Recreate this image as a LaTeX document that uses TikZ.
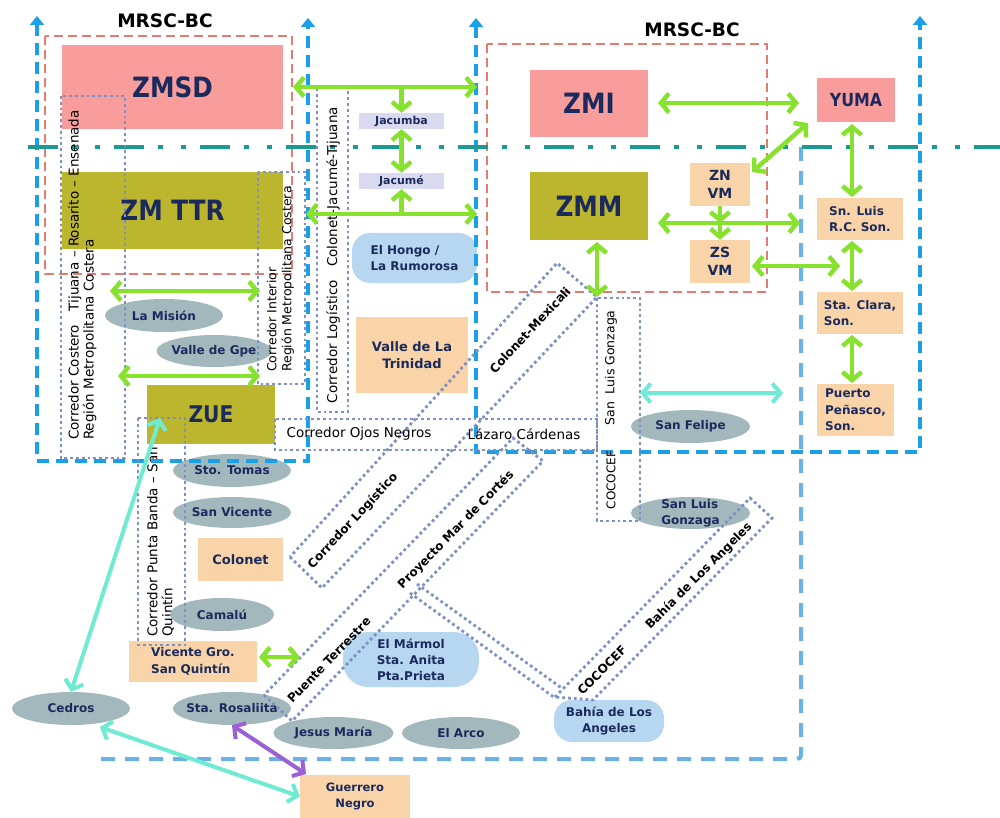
\documentclass[tikz,border=0pt]{standalone}
\usepackage{fontspec}
\setmainfont{DejaVu Sans}
\newfontfamily\bigfont[FakeStretch=0.88]{DejaVu Sans}
\usetikzlibrary{arrows.meta,shapes.geometric,calc}
\definecolor{cpink}{HTML}{F89C9C}
\definecolor{colive}{HTML}{BCB62E}
\definecolor{cpeach}{HTML}{F9D4A8}
\definecolor{clav}{HTML}{D9D9F0}
\definecolor{cgrey}{HTML}{A3B8BC}
\definecolor{clblue}{HTML}{B7D7F1}
\definecolor{cnavy}{HTML}{1B2A5C}
\definecolor{cgreen}{HTML}{86E22C}
\definecolor{ccyan}{HTML}{6EEBD2}
\definecolor{cpurple}{HTML}{9B5FD6}
\definecolor{cblue}{HTML}{1AA0E8}
\definecolor{cbluetwo}{HTML}{6BB1E5}
\definecolor{cred}{HTML}{E57B6E}
\definecolor{cteal}{HTML}{1B9A92}
\definecolor{cdot}{HTML}{7F91C3}
\newcommand\myfs[2]{\fontsize{#1pt}{#2pt}\selectfont}
\tikzset{
  >={Straight Barb[length=8pt,width=19pt]},
  base/.style={inner sep=0pt, text=cnavy, align=center},
  bigbox/.style={base, font=\bigfont\bfseries\myfs{28}{30}},
  pinkb/.style={bigbox, fill=cpink},
  oliveb/.style={bigbox, fill=colive},
  peachb/.style={base, fill=cpeach, font=\bfseries\myfs{12}{16.5}},
  lavb/.style={base, fill=clav, font=\bfseries\myfs{11}{12}},
  pill/.style={ellipse, fill=cgrey, inner sep=0pt},
  lbl/.style={base, font=\bfseries\myfs{12}{16}},
  rbox/.style={base, fill=clblue, rounded corners=18pt, font=\bfseries\myfs{12}{16}},
  corr/.style={draw=cdot, line width=2.8pt, dash pattern=on 2.8pt off 3pt},
  ctext/.style={inner sep=0pt, text=black, font=\myfs{13.5}{15}, align=left},
  dtext/.style={inner sep=0pt, text=black, font=\bfseries\myfs{12}{14}},
  bdash/.style={draw=cblue, line width=4pt, dash pattern=on 12pt off 7pt},
  lbdash/.style={draw=cbluetwo, line width=4pt, dash pattern=on 14pt off 10pt},
  rdash/.style={draw=cred, line width=2.8pt, dash pattern=on 9pt off 5pt},
  tdash/.style={draw=cteal, line width=4pt, dash pattern=on 30pt off 14pt on 5pt off 18pt on 5pt off 14pt},
  garr/.style={draw=cgreen, line width=4.5pt},
  carr/.style={draw=ccyan, line width=4pt},
  parr/.style={draw=cpurple, line width=4pt},
}
\begin{document}
\begin{tikzpicture}[x=1pt,y=-1pt]
\useasboundingbox (0,0) rectangle (1000,818);
\fill[white] (0,0) rectangle (1000,818);

% text under ZUE
\node[ctext, rotate=90, anchor=west] (tPunta) at (160.5,637) {Corredor Punta Banda – San\\Quintín};

% ---------- nodes ----------
\node[pinkb, minimum width=221pt, minimum height=84pt] (ZMSD) at (172.5,87) {ZMSD};
\node[oliveb, minimum width=221pt, minimum height=77pt] (ZMTTR) at (172.5,210.5) {ZM TTR};
\node[pinkb, minimum width=118pt, minimum height=67pt] (ZMI) at (589,103.5) {ZMI};
\node[oliveb, minimum width=118pt, minimum height=68pt] (ZMM) at (589,206) {ZMM};
\node[pinkb, font=\bigfont\bfseries\myfs{18}{20}, minimum width=78pt, minimum height=44pt] (YUMA) at (856,100) {YUMA};
\node[peachb, font=\bfseries\myfs{14}{18}, minimum width=60pt, minimum height=43pt] (ZNVM) at (720,184.5) {ZN\\VM};
\node[peachb, font=\bfseries\myfs{14}{18}, minimum width=60pt, minimum height=43pt] (ZSVM) at (720,261.5) {ZS\\VM};
\node[peachb, align=left, minimum width=86pt, minimum height=42pt] (SnLuis) at (860,219) {Sn. Luis\\R.C. Son.};
\node[peachb, align=left, minimum width=86pt, minimum height=42pt] (StaClara) at (860,313) {Sta. Clara,\\Son.};
\node[peachb, align=left, minimum width=77pt, minimum height=52pt] (Puerto) at (855.5,410) {Puerto\\Peñasco,\\Son.};
\node[lavb, minimum width=85pt, minimum height=16pt] (Jacumba) at (401.5,121) {Jacumba};
\node[lavb, minimum width=85pt, minimum height=16pt] (Jacume) at (401.5,181) {Jacumé};
\node[rbox, align=left, minimum width=125pt, minimum height=50pt] (ElHongo) at (414.5,258) {El Hongo /\\La Rumorosa};
\node[peachb, font=\bfseries\myfs{13}{17}, minimum width=112pt, minimum height=76pt] (Trinidad) at (412,355) {Valle de La\\Trinidad};
\node[pill, minimum width=118pt, minimum height=33pt, label={[lbl]center:La Misión}] (LaMision) at (164,315.5) {};
\node[pill, minimum width=115pt, minimum height=32pt, label={[lbl]center:Valle de Gpe}] (ValleGpe) at (214,351) {};
\node[oliveb, font=\bigfont\bfseries\myfs{23}{25}, minimum width=128pt, minimum height=59pt] (ZUE) at (211,414.5) {ZUE};
\node[pill, minimum width=118pt, minimum height=33pt, label={[lbl]center:Sto. Tomas}] (StoTomas) at (232,470.5) {};
\node[pill, minimum width=118pt, minimum height=31pt, label={[lbl]center:San Vicente}] (SanVicente) at (232,512.5) {};
\node[peachb, font=\bfseries\myfs{13}{17}, minimum width=85pt, minimum height=43pt] (Colonet) at (240.5,559.5) {Colonet};
\node[pill, minimum width=104pt, minimum height=33pt, label={[lbl]center:Camalú}] (Camalu) at (222,614.5) {};
\node[peachb, align=left, minimum width=128pt, minimum height=41pt] (VicenteGro) at (193,661.5) {Vicente Gro.\\San Quintín};
\node[pill, minimum width=118pt, minimum height=33pt, label={[lbl]center:Cedros}] (Cedros) at (71,708.5) {};
\node[pill, minimum width=118pt, minimum height=33pt, label={[lbl]center:Sta. Rosaliita}] (StaRosaliita) at (232,708.5) {};
\node[pill, minimum width=120pt, minimum height=32pt, label={[lbl]center:Jesus María}] (JesusMaria) at (333.5,733) {};
\node[pill, minimum width=118pt, minimum height=32pt, label={[lbl]center:El Arco}] (ElArco) at (461,733) {};
\node[peachb, font=\bfseries\myfs{11.5}{16}, minimum width=110pt, minimum height=43pt] (Guerrero) at (355,796.5) {Guerrero\\Negro};
\node[rbox, rounded corners=25pt, minimum width=136pt, minimum height=55pt] (ElMarmol) at (411,659.5) {El Mármol\\Sta. Anita\\Pta.Prieta};
\node[rbox, rounded corners=18pt, minimum width=110pt, minimum height=42pt] (Bahia) at (609,721) {Bahía de Los\\Angeles};
\node[pill, minimum width=119pt, minimum height=33pt, label={[lbl]center:San Felipe}] (SanFelipe) at (690.5,426.5) {};
\node[pill, minimum width=119pt, minimum height=32pt, label={[lbl,align=left]center:San Luis\\Gonzaga}] (SanLuisG) at (690.5,513) {};

% ---------- region frames ----------
\draw[lbdash, rounded corners=4pt] (801,147) -- (801,759) -- (97,759);
\draw[rdash] (45,36) rectangle (292,274);
\draw[rdash] (487,44) rectangle (767,292);
\draw[bdash, {Triangle[width=14pt,length=9pt]}-{Triangle[width=14pt,length=9pt]}] (37,16) -- (37,461) -- (308,461) -- (308,18);
\draw[bdash, {Triangle[width=14pt,length=9pt]}-{Triangle[width=14pt,length=9pt]}] (476,18) -- (476,452) -- (920,452) -- (920,16);
\draw[tdash] (28,147) -- (1000,147);

% ---------- corridors ----------
\draw[corr] (61,96) rectangle (125,458);
\draw[corr] (258,172) rectangle (305,384);
\draw[corr] (317,88) rectangle (348,412);
\draw[corr] (138,418) rectangle (185,645);
\draw[corr] (275,419) rectangle (597,450);
\draw[corr] (597,298) rectangle (640,521);
\draw[corr] (290,557) -- (322,588) -- (597,297) -- (557,263) -- cycle;
\draw[corr] (264,695) -- (292,721) -- (543,461) -- (513,438) -- cycle;
\draw[corr] (417,584) -- (563,689);
\draw[corr] (410,593) -- (555,698);
\draw[corr] (555,697) -- (750,498) -- (772,518) -- (593,700) -- cycle;

\node[ctext, rotate=90, anchor=west] (tCostero) at (82.5,440) {Corredor Costero\quad Tijuana – Rosarito – Ensenada\\Región Metropolitana Costera};
\node[ctext, font=\myfs{12.5}{15}, rotate=90, anchor=west] (tInterior) at (280.5,372) {Corredor Interior\\Región Metropolitana Costera};
\node[ctext, rotate=90] (tLogV) at (333,255) {Corredor Logístico\quad Colonet-Jacumé-Tijuana};
\node[ctext, font=\myfs{12.5}{15}, rotate=90] (tSLG) at (611,368) {San\ \ Luis Gonzaga};
\node[ctext, font=\myfs{12}{14}, rotate=90] (tCoco) at (611,480) {COCOCEF};
\node[ctext] (tOjos) at (359,434) {Corredor Ojos Negros};
\node[ctext] (tLazaro) at (524,434) {Lázaro Cárdenas};
\node[dtext, rotate=47] (tColMex) at (530,330) {Colonet-Mexicali};
\node[dtext, rotate=47] (tCorrLog) at (353,521) {Corredor Logístico};
\node[dtext, rotate=46] (tPuente) at (329,660) {Puente Terrestre};
\node[dtext, rotate=45.5] (tProy) at (456,530) {Proyecto Mar de Cortés};
\node[dtext, rotate=45] (tCocoD) at (602,670) {COCOCEF};
\node[dtext, rotate=45] (tBahiaD) at (699,576) {Bahía de Los Angeles};

% titles
\node[font=\bfseries\myfs{18.5}{20}, inner sep=0pt] (title1) at (165,21) {MRSC-BC};
\node[font=\bfseries\myfs{18.5}{20}, inner sep=0pt] (title2) at (692,30) {MRSC-BC};

% ---------- arrows ----------
\coordinate (g1L) at (293,87);
\coordinate (g1R) at (477,87);
\coordinate (g1M) at (401.5,87);
\draw[garr,<->] (g1L) -- (g1R);
\draw[garr,->] (g1M) -- (Jacumba.north);
\draw[garr,<->] (Jacumba.south) -- (Jacume.north);
\coordinate (g3L) at (306,214);
\coordinate (g3R) at (477,214);
\coordinate (g3M) at (401.5,214);
\draw[garr,<->] (g3L) -- (g3R);
\draw[garr,->] (g3M) -- (Jacume.south);
\coordinate (g4L) at (110,291);
\coordinate (g4R) at (260,291);
\draw[garr,<->] (g4L) -- (g4R);
\coordinate (g5L) at (118,376);
\coordinate (g5R) at (260,376);
\draw[garr,<->] (g5L) -- (g5R);
\coordinate (g6L) at (658,103);
\coordinate (g6R) at (799,103);
\draw[garr,<->] (g6L) -- (g6R);
\coordinate (d1) at (752,172);
\coordinate (d2) at (808,123);
\draw[garr,<->] (d1) -- (d2);
\coordinate (y1) at (852,124);
\coordinate (y2) at (852,197);
\draw[garr,<->] (y1) -- (y2);
\coordinate (g9L) at (658,223);
\coordinate (g9R) at (800,223);
\draw[garr,<->] (g9L) -- (g9R);
\coordinate (zm) at (720,223);
\draw[garr,->] (ZNVM.south) -- (zm);
\draw[garr,->] (zm) -- (ZSVM.north);
\coordinate (g11L) at (752,266);
\coordinate (g11R) at (840,266);
\draw[garr,<->] (g11L) -- (g11R);
\coordinate (s1) at (852,241);
\coordinate (s2) at (852,291);
\draw[garr,<->] (s1) -- (s2);
\coordinate (s3) at (852,335);
\coordinate (s4) at (852,383);
\draw[garr,<->] (s3) -- (s4);
\coordinate (m1) at (597,242);
\coordinate (m2) at (597,297);
\draw[garr,<->] (m1) -- (m2);
\coordinate (v1) at (259,657);
\coordinate (v2) at (300,657);
\draw[garr,<->] (v1) -- (v2);

\coordinate (c1L) at (640,393);
\coordinate (c1R) at (783,393);
\draw[carr,<->] (c1L) -- (c1R);
\coordinate (zueA) at (160,418);
\draw[carr,<->] (zueA) -- (Cedros.north);
\coordinate (cedB) at (100,727);
\draw[carr,<->] (cedB) -- (Guerrero.west);
\coordinate (gnP) at (306,774);
\draw[parr,<->] (StaRosaliita.south) -- (gnP);
\end{tikzpicture}
\end{document}
